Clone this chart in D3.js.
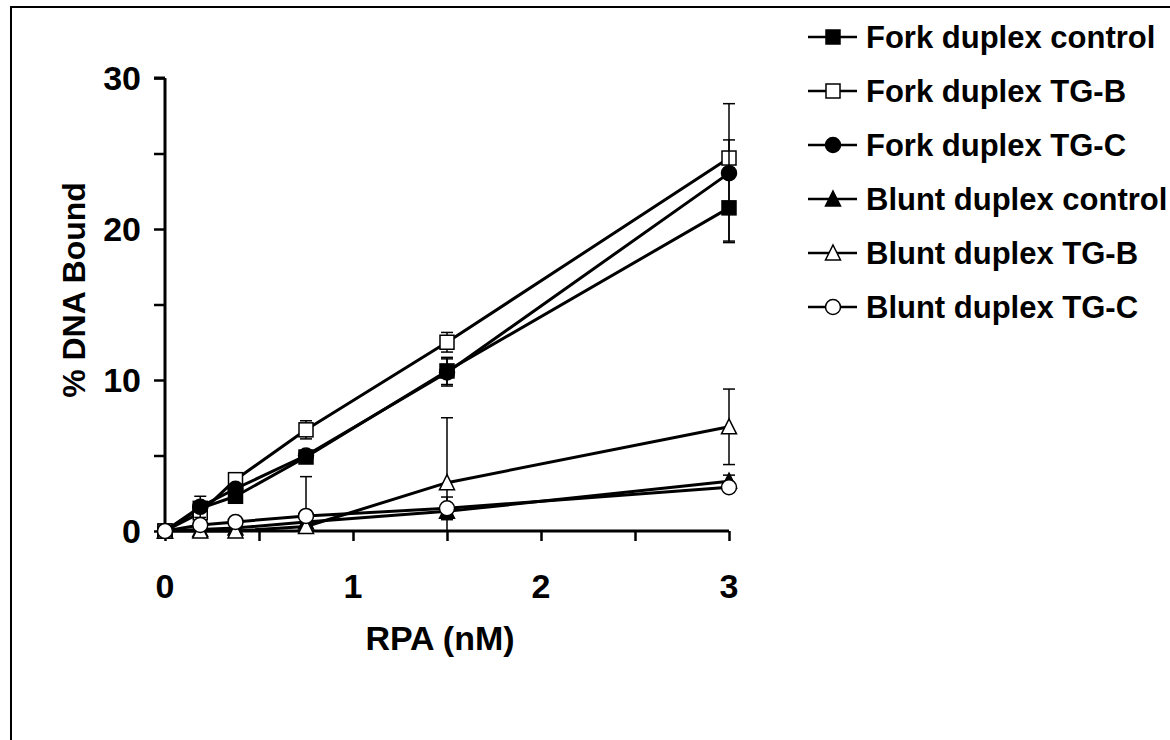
<!DOCTYPE html>
<html>
<head>
<meta charset="utf-8">
<script src="https://cdn.jsdelivr.net/npm/d3@7"></script>
<style>
  html, body { margin: 0; padding: 0; background: #fff; }
  svg { display: block; }
  text { font-family: "Liberation Sans", Arial, sans-serif; font-weight: bold; fill: #000; }
</style>
</head>
<body>
<svg id="chart" width="1170" height="740"></svg>
<script>
// ---- data ----
const rpa = [0, 0.1875, 0.375, 0.75, 1.5, 3];
const seriesNames = ["Fork duplex control", "Fork duplex TG-B", "Fork duplex TG-C",
                     "Blunt duplex control", "Blunt duplex TG-B", "Blunt duplex TG-C"];
const forkControl = [0, 1.5, 2.3, 4.9, 10.6, 21.4];
const forkControlErr = [0, 0.3, 0.3, 0.3, 0.9, 2.2];
const forkTGB = [0, 1.2, 3.4, 6.7, 12.5, 24.7];
const forkTGBErr = [0, 0.3, 0.3, 0.6, 0.65, 1.2];
const forkTGC = [0, 1.6, 2.8, 5.0, 10.5, 23.7];
const forkTGCErr = [0, 0.7, 0.3, 0.3, 0.9, 4.6];
const bluntControl = [0, 0.1, 0.2, 0.6, 1.3, 3.3];
const bluntControlErr = [0, 0.1, 0.1, 0.2, 0.3, 0.4];
const bluntTGB = [0, 0, 0, 0.3, 3.2, 6.9];
const bluntTGBErr = [0, 0, 0, 3.3, 4.3, 2.5];
const bluntTGC = [0, 0.4, 0.6, 1.0, 1.5, 2.9];
const bluntTGCErr = [0, 0.1, 0.1, 0.2, 0.75, 0.3];
const xTickValues = [0, 0.5, 1, 1.5, 2, 2.5, 3];
const xTickLabels = [0, 1, 2, 3];
const yTickValues = [0, 5, 10, 15, 20, 25, 30];
const yTickLabels = [0, 10, 20, 30];
const xTitle = "RPA (nM)";
const yTitle = "% DNA Bound";

const markerShapes = ["square", "square", "circle", "triangle", "triangle", "circle"];
const markerFilled = [true, false, true, true, false, false];
const seriesValues = [forkControl, forkTGB, forkTGC, bluntControl, bluntTGB, bluntTGC];
const seriesErrors = [forkControlErr, forkTGBErr, forkTGCErr, bluntControlErr, bluntTGBErr, bluntTGCErr];

// ---- layout ----
const svg = d3.select("#chart");
const x = d3.scaleLinear().domain([0, 3]).range([165, 729]);
const y = d3.scaleLinear().domain([0, 30]).range([531, 78]);

// outer frame
svg.append("rect").attr("x", 11).attr("y", 7).attr("width", 1180).attr("height", 760)
  .attr("fill", "none").attr("stroke", "#000").attr("stroke-width", 2);

// axes
const yAxis = d3.axisLeft(y).tickValues(yTickValues).tickSize(11).tickFormat("");
const gy = svg.append("g").attr("transform", `translate(${x(0)},0)`).call(yAxis);
gy.select(".domain").attr("stroke-width", 3).attr("d", `M0,${y(30)}V${y(0)}M-11,${y(30)}H0`);
gy.selectAll(".tick line").attr("stroke-width", 2.5);

const xAxis = d3.axisBottom(x).tickValues(xTickValues).tickSize(10).tickFormat("");
const gx = svg.append("g").attr("transform", `translate(0,${y(0)})`).call(xAxis);
gx.select(".domain").attr("stroke-width", 3).attr("d", `M${x(0)},0H${x(3)}`);
gx.selectAll(".tick line").attr("stroke-width", 2.5);

// tick labels
svg.append("g").selectAll("text").data(yTickLabels).join("text")
  .attr("x", 141).attr("y", d => y(d)).attr("dy", "0.36em")
  .attr("text-anchor", "end").attr("font-size", 34).text(d => d);
svg.append("g").selectAll("text").data(xTickLabels).join("text")
  .attr("x", d => x(d)).attr("y", 598)
  .attr("text-anchor", "middle").attr("font-size", 34).text(d => d);

// titles
svg.append("text").attr("x", 440).attr("y", 650).attr("text-anchor", "middle")
  .attr("font-size", 34).text(xTitle);
svg.append("text").attr("transform", `translate(85,290) rotate(-90)`)
  .attr("text-anchor", "middle").attr("font-size", 32).text(yTitle);

// marker drawing
function drawMarker(g, shape, filled, cx, cy) {
  const fill = filled ? "#000" : "#fff";
  if (shape === "square") {
    g.append("rect").attr("x", cx - 7).attr("y", cy - 7).attr("width", 14).attr("height", 14)
      .attr("fill", fill).attr("stroke", "#000").attr("stroke-width", 1.5);
  } else if (shape === "circle") {
    g.append("circle").attr("cx", cx).attr("cy", cy).attr("r", 7.5)
      .attr("fill", fill).attr("stroke", "#000").attr("stroke-width", 1.5);
  } else {
    g.append("path").attr("d", `M${cx},${cy - 8}L${cx + 7.5},${cy + 7}L${cx - 7.5},${cy + 7}Z`)
      .attr("fill", fill).attr("stroke", "#000").attr("stroke-width", 1.5);
  }
}

const line = d3.line().x((d, i) => x(rpa[i])).y(d => y(d));
const plot = svg.append("g");
seriesValues.forEach((vals, s) => {
  const g = plot.append("g");
  g.append("path").datum(vals).attr("d", line).attr("fill", "none")
    .attr("stroke", "#000").attr("stroke-width", 3).attr("stroke-linejoin", "round");
  // error bars
  vals.forEach((v, i) => {
    const e = seriesErrors[s][i];
    if (!e) return;
    const cx = x(rpa[i]);
    const top = y(v + e), bot = y(Math.max(0, v - e));
    g.append("line").attr("x1", cx).attr("x2", cx).attr("y1", top).attr("y2", bot)
      .attr("stroke", "#000").attr("stroke-width", 1.5);
    g.append("line").attr("x1", cx - 6).attr("x2", cx + 6).attr("y1", top).attr("y2", top)
      .attr("stroke", "#000").attr("stroke-width", 1.5);
    if (v - e > 0) {
      g.append("line").attr("x1", cx - 6).attr("x2", cx + 6).attr("y1", bot).attr("y2", bot)
        .attr("stroke", "#000").attr("stroke-width", 1.5);
    }
  });
  vals.forEach((v, i) => drawMarker(g, markerShapes[s], markerFilled[s], x(rpa[i]), y(v)));
});

// legend
const legend = svg.append("g");
seriesNames.forEach((name, s) => {
  const cy = 37 + s * 54;
  const g = legend.append("g");
  g.append("line").attr("x1", 808).attr("x2", 857).attr("y1", cy).attr("y2", cy)
    .attr("stroke", "#000").attr("stroke-width", 2.5);
  drawMarker(g, markerShapes[s], markerFilled[s], 833, cy);
  g.append("text").attr("x", 866).attr("y", cy).attr("dy", "0.36em")
    .attr("font-size", 31).text(name);
});
</script>
</body>
</html>
